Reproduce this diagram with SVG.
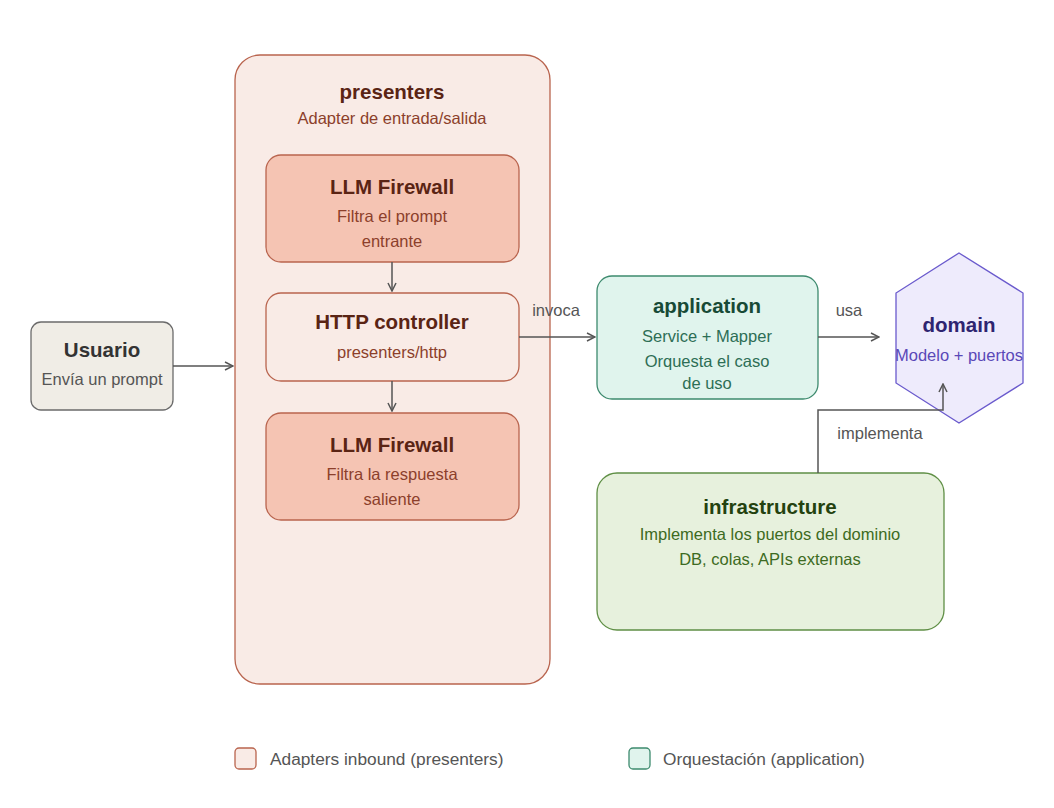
<svg xmlns="http://www.w3.org/2000/svg" width="1054" height="808" viewBox="0 0 1054 808">
<style>
text{font-family:"Liberation Sans",Arial,sans-serif;text-anchor:middle}
.t{font-weight:bold;font-size:20.5px}
.s{font-size:16.5px}
.pr{fill:#f9ebe6;stroke:#b9644e;stroke-width:1.3}
.fw{fill:#f5c4b3;stroke:#b9644e;stroke-width:1.3}
.tb{fill:#5a2414}
.sb{fill:#8c3f2b}
.c{stroke:#555;stroke-width:1.5;fill:none}
.lbl{fill:#555;font-size:16.5px}
</style>
<defs>
<marker id="ah" viewBox="0 0 10 10" refX="9" refY="5" markerWidth="10" markerHeight="10" markerUnits="userSpaceOnUse" orient="auto">
<path d="M1,1 L9,5 L1,9" fill="none" stroke="#555" stroke-width="1.5"/>
</marker>
</defs>
<rect width="1054" height="808" fill="#fff"/>
<g id="presenters">
<rect class="pr" x="235" y="55" width="315" height="629" rx="25"/>
<text class="t tb" x="392" y="99">presenters</text>
<text class="s sb" x="392" y="124">Adapter de entrada/salida</text>
</g>
<g id="usuario">
<rect x="31" y="322" width="142" height="88" rx="10" fill="#f0ede6" stroke="#6b6b6b" stroke-width="1.3"/>
<text class="t" x="102" y="357" fill="#333">Usuario</text>
<text class="s" x="102" y="385" fill="#555">Envía un prompt</text>
</g>
<g id="firewall_in">
<rect class="fw" x="266" y="155" width="253" height="107" rx="15"/>
<text class="t tb" x="392" y="194">LLM Firewall</text>
<text class="s sb" x="392" y="222">Filtra el prompt</text>
<text class="s sb" x="392" y="247">entrante</text>
</g>
<g id="http">
<rect class="pr" x="266" y="293" width="253" height="88" rx="15"/>
<text class="t tb" x="392" y="329">HTTP controller</text>
<text class="s sb" x="392" y="358">presenters/http</text>
</g>
<g id="firewall_out">
<rect class="fw" x="266" y="413" width="253" height="107" rx="15"/>
<text class="t tb" x="392" y="452">LLM Firewall</text>
<text class="s sb" x="392" y="480">Filtra la respuesta</text>
<text class="s sb" x="392" y="505">saliente</text>
</g>
<g id="application">
<rect x="597" y="276" width="221" height="123" rx="15" fill="#e0f4ed" stroke="#3d8a6e" stroke-width="1.3"/>
<text class="t" x="707" y="313" fill="#174a36">application</text>
<text class="s" x="707" y="342" fill="#2d6e55">Service + Mapper</text>
<text class="s" x="707" y="367" fill="#2d6e55">Orquesta el caso</text>
<text class="s" x="707" y="389" fill="#2d6e55">de uso</text>
</g>
<g id="domain">
<polygon points="959,253 1023,293 1023,383 959,423 896,383 896,293" fill="#eeebfc" stroke="#6a5acd" stroke-width="1.3"/>
<text class="t" x="959" y="332" fill="#2e2470">domain</text>
<text class="s" x="959" y="361" fill="#5a48b8">Modelo + puertos</text>
</g>
<g id="infrastructure">
<rect x="597" y="473" width="347" height="157" rx="20" fill="#e7f1dd" stroke="#5f8f45" stroke-width="1.3"/>
<text class="t" x="770" y="514" fill="#24420f">infrastructure</text>
<text class="s" x="770" y="540" fill="#3d6b22">Implementa los puertos del dominio</text>
<text class="s" x="770" y="565" fill="#3d6b22">DB, colas, APIs externas</text>
</g>
<g id="connectors">
<path class="c" d="M173,366 H233" marker-end="url(#ah)"/>
<path class="c" d="M392,262 V291" marker-end="url(#ah)"/>
<path class="c" d="M392,381 V411" marker-end="url(#ah)"/>
<path class="c" d="M519,337 H595" marker-end="url(#ah)"/>
<text class="lbl" x="556" y="316">invoca</text>
<path class="c" d="M818,337 H879" marker-end="url(#ah)"/>
<text class="lbl" x="849" y="316">usa</text>
<path class="c" d="M818,473 V410 H943 V384" marker-end="url(#ah)"/>
<text class="lbl" x="880" y="439">implementa</text>
</g>
<g id="legend">
<rect x="235" y="748" width="21" height="21" rx="4" fill="#f9ebe6" stroke="#b9644e" stroke-width="1.3"/>
<text x="270" y="765" font-size="17.3" fill="#555" style="text-anchor:start">Adapters inbound (presenters)</text>
<rect x="629" y="748" width="21" height="21" rx="4" fill="#e0f4ed" stroke="#3d8a6e" stroke-width="1.3"/>
<text x="663" y="765" font-size="17.3" fill="#555" style="text-anchor:start">Orquestación (application)</text>
</g>
</svg>
